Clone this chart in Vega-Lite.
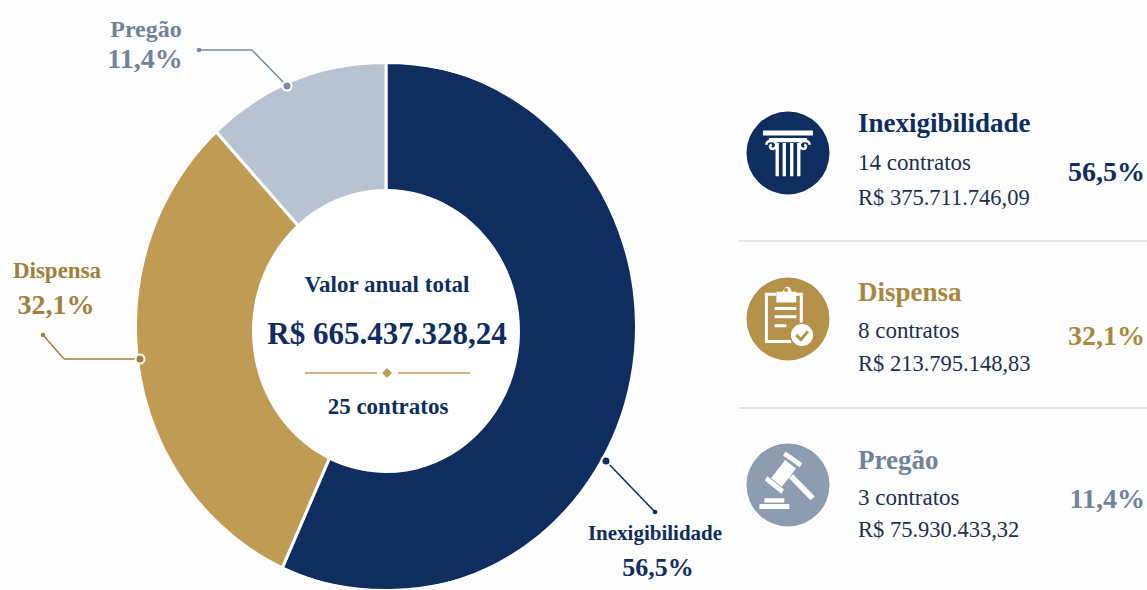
{
"$schema":"https://vega.github.io/schema/vega-lite/v6.json",
"width":1147,"height":590,"padding":0,"autosize":{"type":"none"},"background":"#fdfdfd",
"config":{"view":{"stroke":null},"text":{"font":"Liberation Serif"}},
"data":{"values":[
{"tipo":"Inexigibilidade","contratos":"14 contratos","valor":375711746.09,"valor_txt":"R$ 375.711.746,09","pct":"56,5%"},
{"tipo":"Dispensa","contratos":"8 contratos","valor":213795148.83,"valor_txt":"R$ 213.795.148,83","pct":"32,1%"},
{"tipo":"Pregão","contratos":"3 contratos","valor":75930433.32,"valor_txt":"R$ 75.930.433,32","pct":"11,4%"}
]},
"resolve":{"scale":{"x":"independent","y":"independent","color":"independent","theta":"independent"}},
"layer":[
{"mark":{"type":"arc","x":386,"y":326.5,"outerRadius":264,"innerRadius":120,"stroke":"#ffffff","strokeWidth":3},
 "encoding":{"theta":{"field":"valor","type":"quantitative","stack":true},"order":{"field":"valor","sort":"descending"},
 "color":{"field":"tipo","type":"nominal","legend":null,"scale":{"domain":["Inexigibilidade","Dispensa","Pregão"],"range":["#0f2d5f","#bf9b53","#b8c3d2"]}}}},
{"data":{"values":[{"i":"contorno"}]},"mark":{"type":"point","x":386,"y":326.5,"size":40000,"filled":true,"opacity":1,"fill":"#fdfdfd","shape":"M-2.72 -2.72L2.72 -2.72L2.72 2.72L-2.72 2.72ZM-2.49 0C-2.49 1.455 -1.375 2.635 0 2.635C1.375 2.635 2.49 1.455 2.49 0C2.49 -1.455 1.375 -2.635 0 -2.635C-1.375 -2.635 -2.49 -1.455 -2.49 0Z"}},
{"data":{"values":[{"i":"miolo"}]},"mark":{"type":"point","x":386,"y":331,"size":40000,"filled":true,"opacity":1,"fill":"#ffffff","shape":"M-1.34 0C-1.34 .784 -.74 1.42 0 1.42C.74 1.42 1.34 .784 1.34 0C1.34 -.784 .74 -1.42 0 -1.42C-.74 -1.42 -1.34 -.784 -1.34 0Z"}},

{"data":{"values":[{"a":1}]},"mark":{"type":"rule","stroke":"#7a8aa2","strokeWidth":1.5},"encoding":{"x":{"value":199},"y":{"value":50},"x2":{"value":252},"y2":{"value":50}}},
{"data":{"values":[{"a":1}]},"mark":{"type":"rule","stroke":"#7a8aa2","strokeWidth":1.5},"encoding":{"x":{"value":252},"y":{"value":50},"x2":{"value":287},"y2":{"value":86}}},
{"data":{"values":[{"a":1}]},"mark":{"type":"rule","stroke":"#a07f3c","strokeWidth":1.5},"encoding":{"x":{"value":43},"y":{"value":335},"x2":{"value":64},"y2":{"value":359}}},
{"data":{"values":[{"a":1}]},"mark":{"type":"rule","stroke":"#a07f3c","strokeWidth":1.5},"encoding":{"x":{"value":64},"y":{"value":359},"x2":{"value":140},"y2":{"value":359}}},
{"data":{"values":[{"a":1}]},"mark":{"type":"rule","stroke":"#0f2d5f","strokeWidth":1.5},"encoding":{"x":{"value":606},"y":{"value":461},"x2":{"value":655},"y2":{"value":512}}},
{"data":{"values":[{"a":1}]},"mark":{"type":"point","x":199,"y":50,"size":22,"filled":true,"opacity":1,"shape":"circle","color":"#7a8aa2"}},
{"data":{"values":[{"a":1}]},"mark":{"type":"point","x":287,"y":86,"size":81,"filled":true,"opacity":1,"shape":"circle","fill":"#7a8aa2","stroke":"#ffffff","strokeWidth":2}},
{"data":{"values":[{"a":1}]},"mark":{"type":"point","x":43,"y":335,"size":22,"filled":true,"opacity":1,"shape":"circle","color":"#a07f3c"}},
{"data":{"values":[{"a":1}]},"mark":{"type":"point","x":140,"y":359,"size":81,"filled":true,"opacity":1,"shape":"circle","fill":"#a07f3c","stroke":"#ffffff","strokeWidth":2}},
{"data":{"values":[{"a":1}]},"mark":{"type":"point","x":606,"y":461,"size":81,"filled":true,"opacity":1,"shape":"circle","fill":"#0f2d5f","stroke":"#ffffff","strokeWidth":2}},
{"data":{"values":[{"a":1}]},"mark":{"type":"point","x":655,"y":512,"size":22,"filled":true,"opacity":1,"shape":"circle","color":"#0f2d5f"}},

{"transform":[{"filter":"datum.tipo==='Pregão'"}],"mark":{"type":"text","x":146,"y":30,"fontSize":24,"fontWeight":"bold","align":"center","baseline":"middle","fill":"#71829b"},"encoding":{"text":{"field":"tipo"}}},
{"transform":[{"filter":"datum.tipo==='Pregão'"}],"mark":{"type":"text","x":145,"y":60,"fontSize":28,"fontWeight":"bold","align":"center","baseline":"middle","fill":"#71829b"},"encoding":{"text":{"field":"pct"}}},
{"transform":[{"filter":"datum.tipo==='Dispensa'"}],"mark":{"type":"text","x":57,"y":271,"fontSize":23,"fontWeight":"bold","align":"center","baseline":"middle","fill":"#a07f3c"},"encoding":{"text":{"field":"tipo"}}},
{"transform":[{"filter":"datum.tipo==='Dispensa'"}],"mark":{"type":"text","x":56,"y":306,"fontSize":28,"fontWeight":"bold","align":"center","baseline":"middle","fill":"#a07f3c"},"encoding":{"text":{"field":"pct"}}},
{"transform":[{"filter":"datum.tipo==='Inexigibilidade'"}],"mark":{"type":"text","x":655,"y":534,"fontSize":21,"fontWeight":"bold","align":"center","baseline":"middle","fill":"#0f2d5f"},"encoding":{"text":{"field":"tipo"}}},
{"transform":[{"filter":"datum.tipo==='Inexigibilidade'"}],"mark":{"type":"text","x":658,"y":568,"fontSize":26,"fontWeight":"bold","align":"center","baseline":"middle","fill":"#0f2d5f"},"encoding":{"text":{"field":"pct"}}},

{"data":{"values":[{"t":"Valor anual total"}]},"mark":{"type":"text","x":387,"y":285,"fontSize":23,"fontWeight":"bold","align":"center","baseline":"middle","fill":"#0f2d5f"},"encoding":{"text":{"field":"t"}}},
{"data":{"values":[{"t":"R$ 665.437.328,24"}]},"mark":{"type":"text","x":387,"y":335,"fontSize":31,"fontWeight":"bold","align":"center","baseline":"middle","fill":"#0f2d5f"},"encoding":{"text":{"field":"t"}}},
{"data":{"values":[{"t":"25 contratos"}]},"mark":{"type":"text","x":388,"y":407,"fontSize":23,"fontWeight":"bold","align":"center","baseline":"middle","fill":"#0f2d5f"},"encoding":{"text":{"field":"t"}}},
{"data":{"values":[{"a":1}]},"mark":{"type":"rule","stroke":"#bf9b53","strokeWidth":1.5},"encoding":{"x":{"value":305},"x2":{"value":377},"y":{"value":373}}},
{"data":{"values":[{"a":1}]},"mark":{"type":"rule","stroke":"#bf9b53","strokeWidth":1.5},"encoding":{"x":{"value":398},"x2":{"value":470},"y":{"value":373}}},
{"data":{"values":[{"a":1}]},"mark":{"type":"point","x":387,"y":373,"size":100,"shape":"diamond","filled":true,"opacity":1,"color":"#bf9b53"}},

{"data":{"values":[{"s":"a"},{"s":"b"}]},"mark":{"type":"rule","stroke":"#d9dcdf","strokeWidth":1.5},"encoding":{"x":{"value":739},"x2":{"value":1147},"y":{"field":"s","type":"nominal","axis":null,"scale":{"type":"point","padding":0,"range":[241,408]}}}},

{"mark":{"type":"point","size":6889,"filled":true,"opacity":1,"shape":"circle"},
 "encoding":{"x":{"value":788},"y":{"field":"tipo","type":"nominal","axis":null,"sort":null,"scale":{"type":"point","padding":0,"domain":["Inexigibilidade","Dispensa","Pregão"],"range":[153,485]}},
 "color":{"field":"tipo","type":"nominal","legend":null,"scale":{"domain":["Inexigibilidade","Dispensa","Pregão"],"range":["#0f2d5f","#b4924a","#8d9cb0"]}}}},

{"data":{"values":[{"i":"coluna"}]},"mark":{"type":"point","x":788,"y":153,"size":6889,"filled":true,"opacity":1,"fill":"#ffffff","shape":"M-.6 -.54L.6 -.54L.6 -.42L-.6 -.42ZM-.46 -.36L.46 -.36L.46 -.26L-.46 -.26ZM-.3 -.24L-.22 -.24L-.22 .56L-.3 .56ZM-.13 -.24L-.05 -.24L-.05 .56L-.13 .56ZM.05 -.24L.13 -.24L.13 .56L.05 .56ZM.22 -.24L.3 -.24L.3 .56L.22 .56Z"}},
{"data":{"values":[{"i":"volutas"}]},"mark":{"type":"point","x":788,"y":153,"size":6889,"filled":false,"opacity":1,"stroke":"#ffffff","strokeWidth":2.5,"shape":"M-.52 -.2C-.52 -.28 -.42 -.32 -.34 -.28C-.26 -.24 -.26 -.12 -.36 -.1C-.44 -.09 -.46 -.18 -.39 -.2M.52 -.2C.52 -.28 .42 -.32 .34 -.28C.26 -.24 .26 -.12 .36 -.1C.44 -.09 .46 -.18 .39 -.2"}},

{"data":{"values":[{"i":"prancheta"}]},"mark":{"type":"point","x":788,"y":320,"size":6889,"filled":false,"opacity":1,"stroke":"#ffffff","strokeWidth":3,"shape":"M-.28 -.62L-.52 -.62L-.52 .52L.08 .52M.08 -.62L.32 -.62L.32 .1M-.32 -.28L.2 -.28M-.32 -.08L.2 -.08M-.32 .14L-.04 .14"}},
{"data":{"values":[{"i":"prendedor"}]},"mark":{"type":"point","x":788,"y":320,"size":6889,"filled":true,"opacity":1,"fill":"#ffffff","shape":"M-.28 -.56L-.28 -.68L-.12 -.68C-.1 -.84 .08 -.84 .08 -.68L.2 -.68L.2 -.42L-.28 -.42Z"}},
{"data":{"values":[{"i":"furo"}]},"mark":{"type":"point","x":786,"y":290,"size":16,"shape":"circle","filled":true,"opacity":1,"fill":"#b4924a"}},
{"data":{"values":[{"i":"selo"}]},"mark":{"type":"point","x":802,"y":335,"size":560,"shape":"circle","filled":true,"opacity":1,"fill":"#ffffff","stroke":"#b4924a","strokeWidth":1.5}},
{"data":{"values":[{"i":"visto"}]},"mark":{"type":"point","x":788,"y":320,"size":6889,"filled":false,"opacity":1,"stroke":"#b4924a","strokeWidth":3,"shape":"M.2 .36L.31 .47L.48 .28"}},

{"data":{"values":[{"i":"martelo"}]},"mark":{"type":"point","x":786,"y":485,"size":6889,"filled":true,"opacity":1,"fill":"#ffffff","shape":"M-.01 -.81L.39 -.53L.33 -.43L-.07 -.71ZM-.45 -.21L-.05 .11L-.11 .21L-.51 -.11ZM-.02 -.6L.24 -.4L-.1 .04L-.36 -.16ZM.17 -.26L.69 .27L.59 .37L.07 -.17ZM-.52 .32L-.04 .32L-.04 .42L-.52 .42ZM-.64 .46L.08 .46L.08 .58L-.64 .58Z"}},

{"mark":{"type":"text","x":858,"fontSize":27,"fontWeight":"bold","align":"left","baseline":"middle"},
 "encoding":{"text":{"field":"tipo"},"y":{"field":"tipo","type":"nominal","axis":null,"scale":{"type":"point","padding":0,"domain":["Inexigibilidade","Dispensa","Pregão"],"range":[124,461]}},
 "color":{"field":"tipo","type":"nominal","legend":null,"scale":{"domain":["Inexigibilidade","Dispensa","Pregão"],"range":["#0f2d5f","#a98740","#71829b"]}}}},
{"mark":{"type":"text","x":858,"fontSize":23,"align":"left","baseline":"middle","fill":"#1d2f4f"},
 "encoding":{"text":{"field":"contratos"},"y":{"field":"tipo","type":"nominal","axis":null,"scale":{"type":"point","padding":0,"domain":["Inexigibilidade","Dispensa","Pregão"],"range":[163,498]}}}},
{"mark":{"type":"text","x":858,"fontSize":22.5,"align":"left","baseline":"middle","fill":"#1d2f4f"},
 "encoding":{"text":{"field":"valor_txt"},"y":{"field":"tipo","type":"nominal","axis":null,"scale":{"type":"point","padding":0,"domain":["Inexigibilidade","Dispensa","Pregão"],"range":[198,530]}}}},
{"mark":{"type":"text","x":1145,"fontSize":28,"fontWeight":"bold","align":"right","baseline":"middle"},
 "encoding":{"text":{"field":"pct"},"y":{"field":"tipo","type":"nominal","axis":null,"scale":{"type":"point","padding":0,"domain":["Inexigibilidade","Dispensa","Pregão"],"range":[173,500]}},
 "color":{"field":"tipo","type":"nominal","legend":null,"scale":{"domain":["Inexigibilidade","Dispensa","Pregão"],"range":["#0f2d5f","#a98740","#71829b"]}}}}
]}
